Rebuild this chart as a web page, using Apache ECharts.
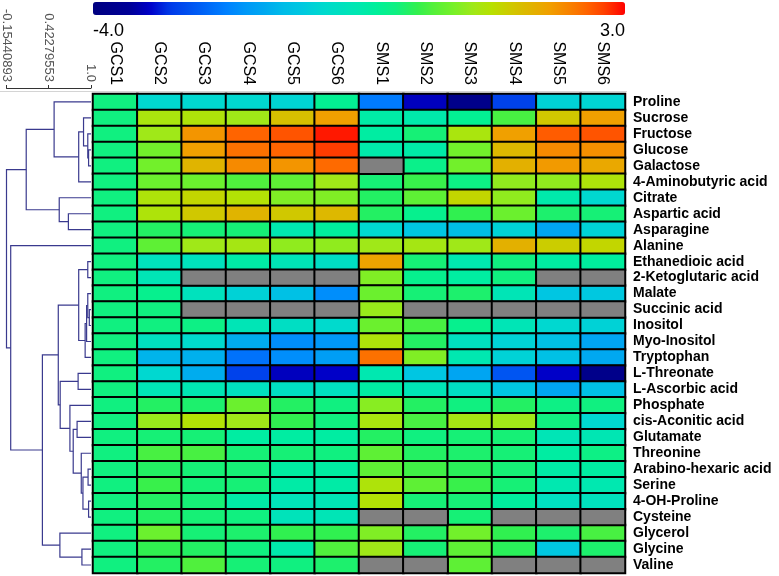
<!DOCTYPE html>
<html><head><meta charset="utf-8">
<script src="https://cdn.jsdelivr.net/npm/echarts@6/dist/echarts.min.js"></script>
<style>html,body{margin:0;padding:0;background:#fff}#c{width:779px;height:576px}</style>
</head><body><div id="c"></div>
<script>
const samples = ['GCS1','GCS2','GCS3','GCS4','GCS5','GCS6','SMS1','SMS2','SMS3','SMS4','SMS5','SMS6'];
const metabolites = ['Proline','Sucrose','Fructose','Glucose','Galactose','4-Aminobutyric acid','Citrate','Aspartic acid','Asparagine','Alanine','Ethanedioic acid','2-Ketoglutaric acid','Malate','Succinic acid','Inositol','Myo-Inositol','Tryptophan','L-Threonate','L-Ascorbic acid','Phosphate','cis-Aconitic acid','Glutamate','Threonine','Arabino-hexaric acid','Serine','4-OH-Proline','Cysteine','Glycerol','Glycine','Valine'];

// values per sample column, in metabolite order (null = not detected, grey)
const GCS1 = [0,0,0,0,0,0,0,0,0,0,0,0,0,0,0,0,0,0,0,0,0,0,0,0,0,0,0,0,0,0];
const GCS2 = [-1.0,1.1,1.0,0.7,0.7,0.65,1.15,1.15,0.15,0.55,-0.7,-0.6,-0.15,0.0,0.0,-0.75,-1.6,-1.0,-0.6,0.15,0.95,0.05,0.4,0.15,0.3,0.15,0.15,0.65,0.25,0.15];
const GCS3 = [-1.0,1.15,2.1,2.0,1.75,0.65,1.35,1.5,0.05,1.0,-0.7,null,-0.7,null,-0.05,-0.95,-1.65,-1.7,-0.55,0.1,1.2,0.05,0.4,0.05,0.05,0.05,0.05,0.05,0.15,0.45];
const GCS4 = [-1.0,1.0,2.5,2.4,2.2,0.45,1.2,1.75,0.05,1.05,-0.4,null,-1.1,null,-0.6,-1.7,-2.4,-2.9,-0.75,0.65,1.0,-0.35,0.05,0.05,0.05,-0.4,0.0,0.1,0.0,0.05];
const GCS5 = [-1.05,1.6,2.6,2.5,2.1,0.55,0.8,1.5,-0.5,0.9,-0.6,null,-1.4,null,-0.8,-2.1,-2.1,-3.3,-0.8,0.15,0.25,-0.35,0.05,-0.35,-0.4,-0.65,-0.65,0.25,-0.45,0.0];
const GCS6 = [-0.2,2.0,2.9,2.75,2.45,1.0,0.8,1.7,-0.3,0.9,-0.8,null,-2.1,null,-0.95,-2.0,-1.9,-3.25,-0.75,0.0,0.0,-0.35,0.0,-0.35,-0.4,-0.6,-0.6,0.25,0.45,0.1];
const SMS1 = [-2.3,-0.4,-0.35,-0.45,null,0.05,0.15,0.15,-1.0,1.0,1.95,0.8,0.65,0.95,0.65,1.15,2.4,-0.5,-0.35,0.85,1.1,0.15,0.55,0.55,1.15,1.2,null,0.8,1.0,null];
const SMS2 = [-3.3,-0.45,0.05,-0.4,-0.1,0.3,0.55,-0.15,-1.3,1.05,0.05,-0.15,0.05,null,0.4,0.15,0.8,-1.3,-0.6,0.15,0.4,0.0,0.15,0.35,0.55,0.05,null,0.15,0.05,null];
const SMS3 = [-3.8,-0.2,1.1,0.7,0.7,-0.05,1.35,0.25,-1.45,1.0,-0.5,-0.35,0.1,null,-0.15,-0.75,-0.5,-1.8,-0.8,0.0,1.05,0.05,0.1,0.2,0.3,0.05,0.05,0.7,0.55,0.55];
const SMS4 = [-2.9,0.4,2.0,1.7,1.8,0.9,0.9,0.65,-1.1,1.8,0.0,0.0,-0.6,null,-0.6,-1.1,-1.1,-2.7,-1.3,0.15,1.0,0.05,0.05,0.05,0.05,-0.3,null,0.25,0.2,null];
const SMS5 = [-1.1,1.5,2.55,2.2,2.05,0.9,-0.45,0.1,-1.8,1.45,-0.35,null,-1.3,null,-1.0,-1.4,-1.4,-3.25,-1.8,-0.05,0.0,-0.6,-0.35,-0.4,-0.5,-0.75,null,0.1,-1.25,null];
const SMS6 = [-1.05,2.0,2.6,2.15,1.9,1.15,-1.0,0.05,-1.1,1.35,-0.3,null,-1.25,null,-1.1,-1.8,-1.75,-3.8,-1.4,0.0,-1.0,-0.55,-0.05,-0.35,-0.5,-0.7,null,0.4,0.1,null];
const sampleValues = [GCS1,GCS2,GCS3,GCS4,GCS5,GCS6,SMS1,SMS2,SMS3,SMS4,SMS5,SMS6];

// colour scale
const colorMin = -4, colorMax = 3;
const colorTickValues = [-4, 3];
const colorTickLabels = ['-4.0', '3.0'];
const scaleColors = ['#000080','#00008c','#000098','#0000c8','#0038e8','#0050f0','#0068f8','#0080ff','#0098f8','#00a8f0','#00bce8','#00c8e0','#00d8d0','#00e0c0','#00e8b0','#00f098','#10f080','#30f050','#58f038','#78f028','#a0e818','#b8e000','#d0c800','#e0b400','#f0a000','#f88400','#ff6400','#ff3c00','#ff0000'];

// row dendrogram: [left, right, similarity]; numbers = row index, 'mK' = K-th merge
const dendroTickValues = [-0.15440893, 0.42279553, 1.0];
const dendroTickLabels = ['-0.15440893', '0.42279553', '1.0'];
const leafHeight = 1.0;
const dendroMerges = [
  [3, 4, 0.967], [2, 'm0', 0.956], [1, 'm1', 0.898], ['m2', 5, 0.832], [0, 'm3', 0.496],
  [7, 8, 0.691], [6, 'm5', 0.566], ['m4', 'm6', 0.115],
  [10, 11, 0.956], [13, 14, 0.977], [12, 'm9', 0.956], ['m10', 15, 0.940], ['m11', 16, 0.920], ['m8', 'm12', 0.832],
  [17, 18, 0.824], [20, 21, 0.810], [23, 24, 0.960], [25, 26, 0.967], ['m16', 'm17', 0.890], [22, 'm18', 0.867],
  ['m15', 'm19', 0.757], [19, 'm20', 0.712], ['m14', 'm21', 0.579], ['m13', 'm22', 0.553],
  [28, 29, 0.876], [27, 'm24', 0.575], ['m23', 'm25', 0.336], [9, 'm26', -0.097], ['m7', 'm27', -0.15440893]
];

const heatData = [], missingData = [];
sampleValues.forEach((col, c) => col.forEach((v, r) => {
  if (v === null) missingData.push([c, r, 0]); else heatData.push([c, r, v]);
}));

const nodeY = {}, nodeH = {}, dendroData = [];
function pos(id) { return typeof id === 'number' ? {y: id, h: leafHeight} : {y: nodeY[id], h: nodeH[id]}; }
dendroMerges.forEach((m, i) => {
  const a = pos(m[0]), b = pos(m[1]);
  nodeY['m' + i] = (a.y + b.y) / 2; nodeH['m' + i] = m[2];
  dendroData.push([m[2], a.y, a.h, b.y, b.h]);
});

const FONT = 'Liberation Sans, Arial, sans-serif';
const chart = echarts.init(document.getElementById('c'), null, {renderer: 'canvas'});
chart.setOption({
  animation: false,
  backgroundColor: '#fff',
  textStyle: {fontFamily: FONT},
  grid: [
    {left: 93, top: 94, width: 532, height: 479},
    {left: 4, top: 88, width: 87, height: 485},
    {left: 93, top: 15, width: 532, height: 1}
  ],
  xAxis: [
    {gridIndex: 0, type: 'category', data: samples, position: 'top',
     axisLine: {show: false}, axisTick: {show: false}, splitLine: {show: false},
     axisLabel: {rotate: 90, interval: 0, fontSize: 16, color: '#000', margin: 9, fontFamily: FONT}},
    {gridIndex: 1, type: 'value', min: dendroTickValues[0], max: leafHeight, position: 'top',
     axisLine: {show: true, onZero: false, lineStyle: {color: '#333', width: 1}},
     axisTick: {show: true, length: 3, customValues: dendroTickValues, lineStyle: {color: '#333'}},
     splitLine: {show: false},
     axisLabel: {rotate: 90, fontSize: 13, color: '#555', margin: 6, fontFamily: FONT,
       customValues: dendroTickValues,
       formatter: v => { let best = 0; dendroTickValues.forEach((t, i) => { if (Math.abs(t - v) < Math.abs(dendroTickValues[best] - v)) best = i; }); return dendroTickLabels[best]; }}},
    {gridIndex: 2, type: 'value', min: colorMin, max: colorMax, position: 'bottom',
     axisLine: {show: false, onZero: false}, axisTick: {show: false}, splitLine: {show: false},
     axisLabel: {fontSize: 18, color: '#000', margin: 6, fontFamily: FONT,
       customValues: colorTickValues, alignMinLabel: 'left', alignMaxLabel: 'right',
       formatter: v => colorTickLabels[colorTickValues.indexOf(v)] ?? ''}}
  ],
  yAxis: [
    {gridIndex: 0, type: 'category', data: metabolites, inverse: true, position: 'right',
     axisLine: {show: false}, axisTick: {show: false}, splitLine: {show: false},
     axisLabel: {interval: 0, fontSize: 14, fontWeight: 'bold', color: '#000', margin: 8, fontFamily: FONT}},
    {gridIndex: 1, type: 'value', inverse: true, min: -0.875, max: 29.5, show: false},
    {gridIndex: 2, type: 'value', show: false}
  ],
  visualMap: {
    type: 'continuous', min: colorMin, max: colorMax, orient: 'horizontal',
    left: 93, top: 2, itemWidth: 13, itemHeight: 532, padding: 0,
    calculable: false, hoverLink: false, seriesIndex: 0, text: null,
    inRange: {color: scaleColors}
  },
  graphic: [{type: 'line', shape: {x1: 0, y1: 91.5, x2: 627, y2: 91.5}, style: {stroke: '#d4d4d4', lineWidth: 1}, z: -1}],
  series: [
    {type: 'heatmap', xAxisIndex: 0, yAxisIndex: 0, data: heatData,
     itemStyle: {borderColor: '#000', borderWidth: 2}, emphasis: {disabled: true}},
    {type: 'heatmap', xAxisIndex: 0, yAxisIndex: 0, data: missingData,
     itemStyle: {color: '#808080', borderColor: '#000', borderWidth: 2}, emphasis: {disabled: true}},
    {type: 'custom', xAxisIndex: 1, yAxisIndex: 1, data: dendroData,
     encode: {x: [0, 2, 4], y: [1, 3]},
     renderItem: (params, api) => {
       const h = api.value(0), ya = api.value(1), ha = api.value(2), yb = api.value(3), hb = api.value(4);
       return {type: 'polyline',
         shape: {points: [api.coord([ha, ya]), api.coord([h, ya]), api.coord([h, yb]), api.coord([hb, yb])]},
         style: {stroke: '#3a3a8e', lineWidth: 1.2, fill: 'none'}};
     }}
  ]
});
</script></body></html>
